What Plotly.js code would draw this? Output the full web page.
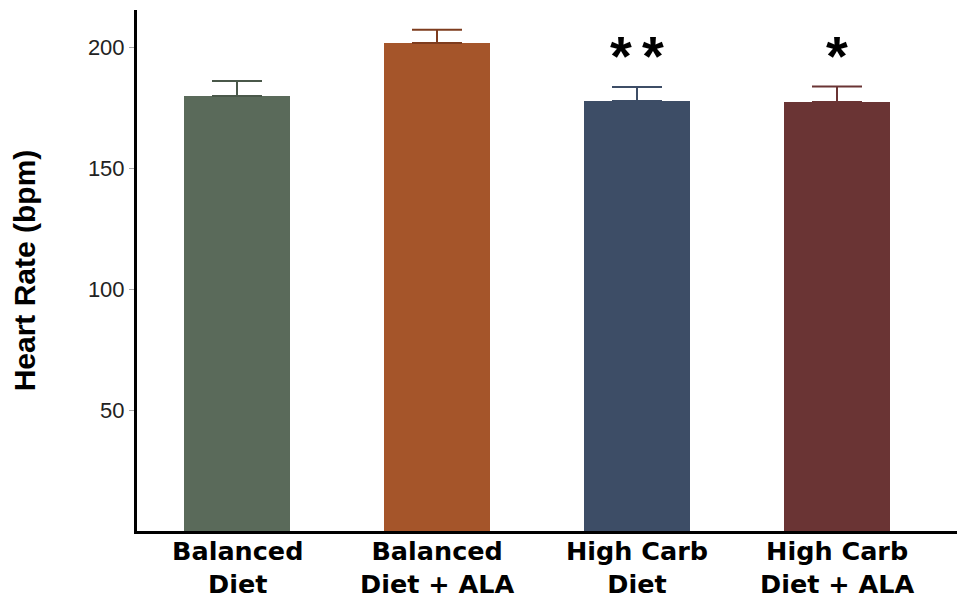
<!DOCTYPE html>
<html>
<head>
<meta charset="utf-8">
<script src="https://cdn.plot.ly/plotly-3.0.1.min.js"></script>
<style>html,body{margin:0;padding:0;background:#fff;}#chart{width:959px;height:598px;}</style>
</head>
<body>
<div id="chart"></div>
<script>
var categories = ["Balanced<br>Diet", "Balanced<br>Diet + ALA", "High Carb<br>Diet", "High Carb<br>Diet + ALA"];
var heartRate = [179.8, 201.7, 177.7, 177.3];
var errorUp = [6.2, 5.4, 5.8, 6.4];
var significance = ["", "", "**", "*"];
var barColors = ["#5a6a5a", "#a5552a", "#3d4d66", "#6a3434"];
var errColors = ["#4a584a", "#7e3c1e", "#3d4d66", "#6a3434"];
var yTickVals = [50, 100, 150, 200];

var traces = categories.map(function (c, i) {
  return {
    type: "bar",
    x: [c],
    y: [heartRate[i]],
    width: 0.53,
    marker: {color: barColors[i], line: {width: 0}},
    error_y: {type: "data", array: [errorUp[i]], arrayminus: [0], symmetric: false,
      color: errColors[i], thickness: 2, width: 25},
    showlegend: false,
    hoverinfo: "none"
  };
});

var annotations = [];
significance.forEach(function (s, i) {
  var n = s.length;
  for (var k = 0; k < n; k++) {
    annotations.push({
      x: categories[i], y: heartRate[i] + errorUp[i] + 13,
      xref: "x", yref: "y", text: "<b>*</b>", showarrow: false,
      xshift: (k - (n - 1) / 2) * 31.5,
      yanchor: "middle", font: {family: "Liberation Sans, Arial", size: 56, color: "#000"}
    });
  }
});
categories.forEach(function (c) {
  annotations.push({
    x: c, y: 0, xref: "x", yref: "paper", yanchor: "top", yshift: -3,
    text: "<b>" + c + "</b>", showarrow: false,
    font: {family: "DejaVu Sans", size: 25.5, color: "#000"}
  });
});

var layout = {
  width: 959, height: 598,
  margin: {l: 137, r: 2, t: 10, b: 67},
  paper_bgcolor: "#fff", plot_bgcolor: "#fff",
  xaxis: {
    type: "category",
    range: [-0.5, 3.6],
    showline: true, linecolor: "#000", linewidth: 3,
    ticks: "", showgrid: false, zeroline: false, showticklabels: false
  },
  yaxis: {
    range: [0, 215.3],
    showline: true, linecolor: "#000", linewidth: 3,
    tickvals: yTickVals, ticks: "outside", ticklen: 5, tickcolor: "#aaa", tickwidth: 1,
    showgrid: false, zeroline: false,
    tickfont: {family: "Liberation Sans, Arial", size: 22, color: "#222"},
    title: {text: "<b>Heart Rate (bpm)</b>", standoff: 44,
      font: {family: "Liberation Sans, Arial", size: 30, color: "#000"}}
  },
  annotations: annotations
};

Plotly.newPlot("chart", traces, layout, {staticPlot: true});
</script>
</body>
</html>
